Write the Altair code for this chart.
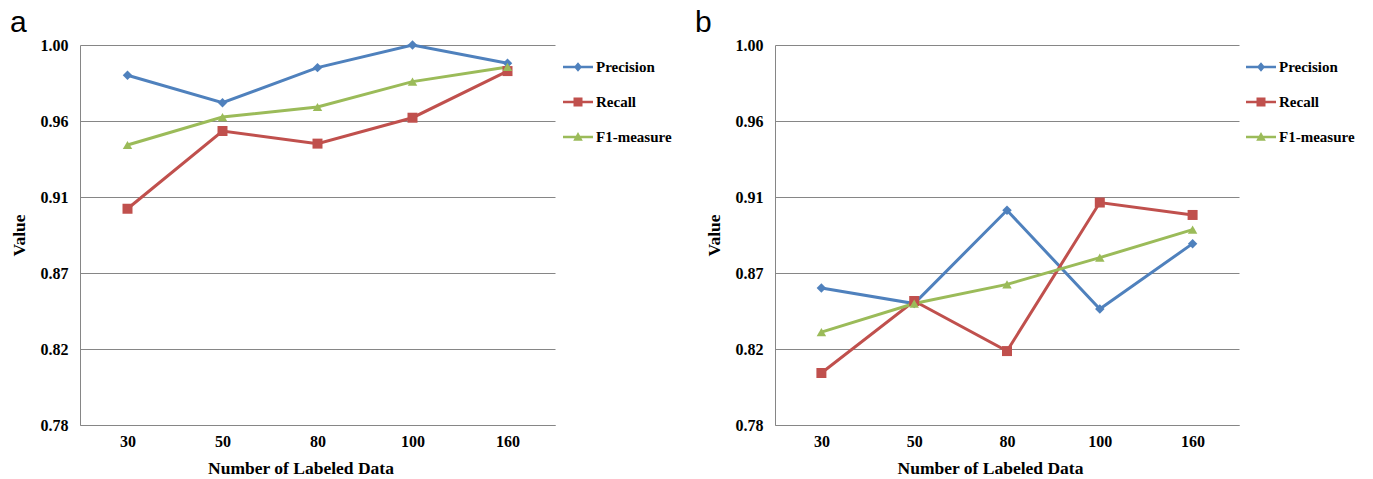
import altair as alt
import pandas as pd

sizes = ["30", "50", "80", "100", "160"]
series = ["Precision", "Recall", "F1-measure"]
a_precision = [0.9825, 0.9666, 0.9869, 1.0000, 0.9894]
a_recall = [0.9052, 0.9502, 0.9429, 0.9579, 0.9849]
a_f1 = [0.9421, 0.9583, 0.9641, 0.9788, 0.9873]
b_precision = [0.8593, 0.8503, 0.9043, 0.8471, 0.8850]
b_recall = [0.8101, 0.8518, 0.8228, 0.9088, 0.9016]
b_f1 = [0.8338, 0.8503, 0.8614, 0.8769, 0.8931]
y_ticks = [0.78, 0.824, 0.868, 0.912, 0.956, 1.0]
colors = ["#4F81BD", "#C0504D", "#9BBB59"]
shapes = ["diamond", "square", "triangle-up"]
point_sizes = [90, 100, 90]

LINE = "M-1,-0.09L1,-0.09L1,0.09L-1,0.09Z"
legend_paths = [
    LINE + "M0,-0.32L0.27,0L0,0.32L-0.27,0Z",
    LINE + "M-0.3,-0.3L0.3,-0.3L0.3,0.3L-0.3,0.3Z",
    LINE + "M0,-0.33L0.32,0.25L-0.32,0.25Z",
]

FONT = "Liberation Serif"


def make_df(p, r, f):
    rows = []
    for name, vals in zip(series, [p, r, f]):
        for n, v in zip(sizes, vals):
            rows.append({"n": n, "v": v, "s": name})
    return pd.DataFrame(rows)


def make_legend(legend_x):
    return alt.Legend(
        title=None,
        orient="none",
        legendX=legend_x,
        legendY=7,
        symbolSize=900,
        symbolStrokeWidth=0,
        symbolOpacity=1,
        labelFont=FONT,
        labelFontWeight="bold",
        labelFontSize=15,
        labelColor="black",
        labelOffset=3,
        rowPadding=12,
        padding=0,
    )


def panel(df, label, width, legend_x, title_dx):
    color = alt.Color(
        "s:N", sort=series, scale=alt.Scale(domain=series, range=colors),
        legend=make_legend(legend_x),
    )
    base = alt.Chart(df).encode(
        x=alt.X(
            "n:N",
            sort=sizes,
            scale=alt.Scale(type="point", padding=0.5),
            axis=alt.Axis(
                title="Number of Labeled Data",
                labelAngle=0,
                ticks=False,
                grid=False,
                domainColor="#868686",
                labelPadding=8,
                titlePadding=10,
                titleX=width / 2 - 17,
            ),
        ),
        y=alt.Y(
            "v:Q",
            scale=alt.Scale(domain=[0.78, 1.0], nice=False, zero=False),
            axis=alt.Axis(
                title="Value",
                values=y_ticks,
                format=".2f",
                ticks=False,
                grid=True,
                gridColor="#868686",
                domainColor="#868686",
                labelPadding=12,
                titlePadding=12,
            ),
        ),
        color=color,
    )
    layers = [base.mark_line(strokeWidth=3)]
    for name, shp, sz in zip(series, shapes, point_sizes):
        layers.append(
            base.mark_point(filled=True, shape=shp, size=sz, opacity=1).transform_filter(
                alt.datum.s == name
            )
        )
    legend_layer = base.mark_point(filled=True, strokeWidth=0, size=900).encode(
        shape=alt.Shape(
            "s:N",
            sort=series,
            scale=alt.Scale(domain=series, range=legend_paths),
            legend=make_legend(legend_x),
        ),
    ).transform_filter("false")
    layers.append(legend_layer)
    return alt.layer(*layers).properties(
        width=width,
        height=380,
        title=alt.TitleParams(
            label,
            anchor="start",
            frame="group",
            font="Liberation Sans",
            fontSize=30,
            fontWeight="normal",
            baseline="alphabetic",
            dx=title_dx,
            offset=-25,
        ),
    )


pa = panel(make_df(a_precision, a_recall, a_f1), "a", 475, 483, -70)
pb = panel(make_df(b_precision, b_recall, b_f1), "b", 464, 471, -80)

chart = (
    alt.hconcat(pa, pb, spacing=23)
    .resolve_scale(color="independent", shape="independent")
    .resolve_legend(color="independent", shape="independent")
    .properties(padding={"left": 10, "top": 8, "right": 5, "bottom": 5})
    .configure_view(stroke=None)
    .configure_axis(
        labelFont=FONT,
        labelFontWeight="bold",
        labelFontSize=16,
        labelColor="black",
        titleFont=FONT,
        titleFontWeight="bold",
        titleFontSize=17.5,
        titleColor="black",
    )
)

chart.save("out.html", embed_options={"renderer": "svg", "actions": False})
